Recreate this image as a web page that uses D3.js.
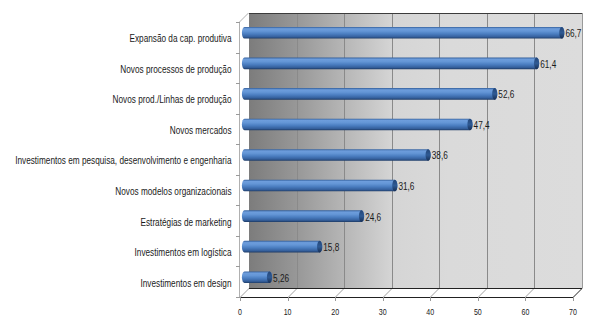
<!DOCTYPE html>
<meta charset="UTF-8">
<style>
  body { margin: 0; background: #fff; }
  text { font-family: "Liberation Sans", Arial, sans-serif; fill: #1a1a1a; }
</style>
<svg width="600" height="330"></svg>
<script src="https://d3js.org/d3.v7.min.js"></script>
<script>
  const categories = [
    'Expansão da cap. produtiva',
    'Novos processos de produção',
    'Novos prod./Linhas de produção',
    'Novos mercados',
    'Investimentos em pesquisa, desenvolvimento e engenharia',
    'Novos modelos organizacionais',
    'Estratégias de marketing',
    'Investimentos em logística',
    'Investimentos em design'
  ];
  const values = [66.7, 61.4, 52.6, 47.4, 38.6, 31.6, 24.6, 15.8, 5.26];
  const valueLabels = ['66,7', '61,4', '52,6', '47,4', '38,6', '31,6', '24,6', '15,8', '5,26'];
  const xTicks = [0, 10, 20, 30, 40, 50, 60, 70];

  // front plane of the 3d box, depth offset goes up and to the right
  const plotLeft = 240, plotRight = 573, plotTop = 22, plotBottom = 297;
  const depth = 9;
  const squish = 0.785;   // narrow text

  const x = d3.scaleLinear().domain([0, 70]).range([plotLeft, plotRight]);
  const y = d3.scaleBand().domain(categories).range([plotTop, plotBottom]);

  const svg = d3.select('svg');
  const defs = svg.append('defs');

  const wall = defs.append('linearGradient').attr('id', 'wall')
    .attr('x1', 0).attr('x2', 1).attr('y1', 0).attr('y2', 0);
  [[0, '#7c7c7c'], [0.15, '#999999'], [0.29, '#b7b7b7'], [0.43, '#d5d5d5'], [0.6, '#dadada'], [1, '#dcdcdc']]
    .forEach(([o, c]) => wall.append('stop').attr('offset', o).attr('stop-color', c));

  const body = defs.append('linearGradient').attr('id', 'body')
    .attr('x1', 0).attr('x2', 0).attr('y1', 0).attr('y2', 1);
  [[0, '#34609c'], [0.15, '#6d9ddc'], [0.35, '#6496d6'], [0.6, '#4a7dc0'], [0.85, '#35609d'], [1, '#1e3b66']]
    .forEach(([o, c]) => body.append('stop').attr('offset', o).attr('stop-color', c));

  const cap = defs.append('linearGradient').attr('id', 'cap')
    .attr('x1', 0).attr('x2', 0).attr('y1', 0).attr('y2', 1);
  [[0, '#244678'], [0.5, '#2f5a94'], [1, '#172f55']]
    .forEach(([o, c]) => cap.append('stop').attr('offset', o).attr('stop-color', c));

  // side wall and floor
  svg.append('path')
    .attr('d', `M${plotLeft},${plotTop}L${plotLeft + depth},${plotTop - depth}L${plotLeft + depth},${plotBottom - depth}L${plotLeft},${plotBottom}Z`)
    .attr('fill', '#fff');
  svg.append('path')
    .attr('d', `M${plotLeft},${plotBottom}L${plotRight},${plotBottom}L${plotRight + depth},${plotBottom - depth}L${plotLeft + depth},${plotBottom - depth}Z`)
    .attr('fill', '#fff');

  // back wall
  svg.append('rect')
    .attr('x', plotLeft + depth).attr('y', plotTop - depth)
    .attr('width', plotRight - plotLeft).attr('height', plotBottom - plotTop)
    .attr('fill', 'url(#wall)');

  // grid on back wall and floor
  const grid = svg.append('g').attr('stroke', '#8a8a8a').attr('stroke-width', 1);
  xTicks.slice(1, -1).forEach(t => {
    const gx = Math.round(x(t)) + 0.5;
    grid.append('line')
      .attr('x1', gx + depth).attr('x2', gx + depth)
      .attr('y1', plotTop - depth).attr('y2', plotBottom - depth);
    grid.append('line')
      .attr('x1', gx).attr('y1', plotBottom)
      .attr('x2', gx + depth).attr('y2', plotBottom - depth)
      .attr('stroke', '#a0a0a0');
  });
  grid.append('line')
    .attr('x1', plotLeft + 0.5).attr('y1', plotBottom)
    .attr('x2', plotLeft + depth + 0.5).attr('y2', plotBottom - depth)
    .attr('stroke', '#a0a0a0');

  // box edges
  const edges = svg.append('g').attr('fill', 'none');
  edges.append('line')
    .attr('x1', plotLeft + depth).attr('x2', plotRight + depth)
    .attr('y1', plotTop - depth + 0.5).attr('y2', plotTop - depth + 0.5)
    .attr('stroke', '#3c3c3c');
  edges.append('line')
    .attr('x1', plotRight + depth + 0.5).attr('x2', plotRight + depth + 0.5)
    .attr('y1', plotTop - depth).attr('y2', plotBottom - depth)
    .attr('stroke', '#9a9a9a');
  edges.append('line')
    .attr('x1', plotLeft + depth).attr('x2', plotRight + depth)
    .attr('y1', plotBottom - depth + 0.5).attr('y2', plotBottom - depth + 0.5)
    .attr('stroke', '#222');
  edges.append('line')
    .attr('x1', plotRight).attr('y1', plotBottom + 0.5)
    .attr('x2', plotRight + depth).attr('y2', plotBottom - depth + 0.5)
    .attr('stroke', '#222');
  edges.append('line')
    .attr('x1', plotLeft).attr('x2', plotRight)
    .attr('y1', plotBottom + 0.5).attr('y2', plotBottom + 0.5)
    .attr('stroke', '#222');
  edges.append('line')
    .attr('x1', plotLeft - 0.5).attr('x2', plotLeft - 0.5)
    .attr('y1', plotTop).attr('y2', plotBottom)
    .attr('stroke', '#b0b0b0');
  edges.append('line')
    .attr('x1', plotLeft - 0.5).attr('y1', plotTop)
    .attr('x2', plotLeft + depth - 0.5).attr('y2', plotTop - depth)
    .attr('stroke', '#b0b0b0');

  // category ticks at band boundaries
  const catTicks = svg.append('g').attr('stroke', '#9a9a9a');
  d3.range(categories.length + 1).forEach(i => {
    const ty = Math.round(plotTop + i * y.step()) + 0.5;
    catTicks.append('line')
      .attr('x1', plotLeft - 4).attr('x2', plotLeft).attr('y1', ty).attr('y2', ty);
  });

  // value ticks below front edge
  const valTicks = svg.append('g').attr('stroke', '#9a9a9a');
  xTicks.forEach(t => {
    const tx = Math.round(x(t)) + 0.5;
    valTicks.append('line')
      .attr('x1', tx).attr('x2', tx).attr('y1', plotBottom).attr('y2', plotBottom + 4);
  });

  const squishedText = (parent, px, py, str, anchor, size) =>
    parent.append('g')
      .attr('transform', `translate(${px},${py}) scale(${squish},1)`)
      .append('text')
        .attr('text-anchor', anchor)
        .attr('dominant-baseline', 'central')
        .attr('font-size', size)
        .text(str);

  const xLabels = svg.append('g');
  xTicks.forEach(t => squishedText(xLabels, x(t), 312, t, 'middle', 9));

  const yLabels = svg.append('g');
  categories.forEach(c => squishedText(yLabels, 231.5, y(c) + y.bandwidth() / 2 + 1, c, 'end', 10.5));

  // cylinders sit at mid depth
  const r = 5.8, rx = 2.6, shift = depth / 2;
  const bars = svg.append('g').selectAll('g.bar')
    .data(categories.map((c, i) => ({ c, v: values[i], label: valueLabels[i] })))
    .join('g').attr('class', 'bar');

  bars.each(function(d) {
    const g = d3.select(this);
    const cy = y(d.c) + y.bandwidth() / 2 - shift;
    const x0 = x(0) + shift, x1 = x(d.v) + shift;
    g.append('path')
      .attr('d', `M${x0},${cy - r}L${x1},${cy - r}` +
        `A${rx},${r} 0 0 1 ${x1},${cy + r}L${x0},${cy + r}` +
        `A${rx},${r} 0 0 1 ${x0},${cy - r}Z`)
      .attr('fill', 'url(#body)');
    g.append('ellipse')
      .attr('cx', x1).attr('cy', cy).attr('rx', rx).attr('ry', r)
      .attr('fill', 'url(#cap)');
    squishedText(g, x1 + rx + 1, cy + 0.5, d.label, 'start', 10.5);
  });
</script>
